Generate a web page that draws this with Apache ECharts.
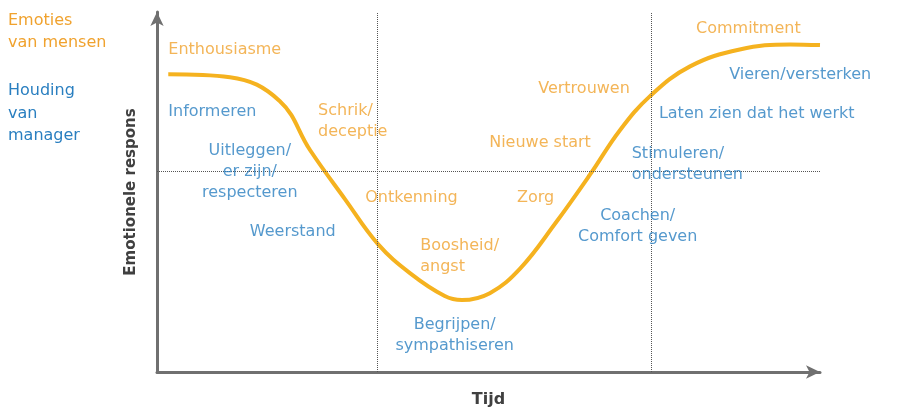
<!DOCTYPE html>
<html><head><meta charset="utf-8">
<script src="https://cdn.jsdelivr.net/npm/echarts@6/dist/echarts.min.js"></script>
<style>html,body{margin:0;padding:0;background:#fff}#c{width:900px;height:413px}</style>
</head><body><div id="c"></div>
<script>
const curveX = [1.7,11.0,18.5,23.1,28.4,33.3,38.2,43.4,46.0,50.2,54.8,60.0,65.3,69.8,74.4,80.4,87.9,95.5,100];
const curveY = [82.7,81.9,75.3,61.6,47.9,35.6,27.4,21.1,20.0,21.9,28.8,41.1,54.8,67.1,76.7,84.9,89.6,91.0,90.8];
const phaseLinesX = [33.2, 74.5];
const midLineY = 55.9;
// [text, x, y, align]
const emotionLabels = [
  ['Enthousiasme',1.7,89.6,'left'],
  ['Schrik/\ndeceptie',24.3,69.6,'left'],
  ['Ontkenning',31.4,48.5,'left'],
  ['Boosheid/\nangst',39.7,32.0,'left'],
  ['Zorg',54.3,48.5,'left'],
  ['Nieuwe start',50.1,63.6,'left'],
  ['Vertrouwen',57.5,78.6,'left'],
  ['Commitment',81.3,95.3,'left']
];
const managerLabels = [
  ['Informeren',1.7,72.3,'left'],
  ['Uitleggen/\ner zijn/\nrespecteren',14.0,55.6,'center'],
  ['Weerstand',14.0,38.9,'left'],
  ['Begrijpen/\nsympathiseren',44.9,10.1,'center'],
  ['Coachen/\nComfort geven',72.5,40.5,'center'],
  ['Stimuleren/\nondersteunen',71.6,57.8,'left'],
  ['Laten zien dat het werkt',75.7,71.8,'left'],
  ['Vieren/versterken',86.3,82.5,'left']
];
const ORANGE='#f0a22e', BLUE='#2a7fc0', FONT='DejaVu Sans';
function textSeries(arr,color){
  return {type:'scatter',symbolSize:0,silent:true,z:5,
    data:arr.map(d=>({value:[d[1],d[2]],label:{show:true,formatter:d[0],
      position:d[3]==='center'?'inside':'right',distance:0,align:d[3],verticalAlign:'middle',
      color:color,fontSize:16,fontFamily:FONT,lineHeight:21}}))};
}
const chart = echarts.init(document.getElementById('c'));
chart.setOption({
  animation:false,
  grid:{left:157,right:80,top:12,bottom:36},
  xAxis:{type:'value',min:0,max:100,axisLine:{lineStyle:{color:'#707070',width:3},symbol:['none','arrow'],symbolSize:[10,14]},
    axisTick:{show:false},axisLabel:{show:false},splitLine:{show:false},
    name:'Tijd',nameLocation:'middle',nameGap:20,nameTextStyle:{fontSize:16,fontWeight:'bold',color:'#404040',fontFamily:FONT}},
  yAxis:{type:'value',min:0,max:100,axisLine:{lineStyle:{color:'#707070',width:3},symbol:['none','arrow'],symbolSize:[10,14]},
    axisTick:{show:false},axisLabel:{show:false},splitLine:{show:false},
    name:'Emotionele respons',nameLocation:'middle',nameGap:18,nameRotate:90,nameTextStyle:{fontSize:15,fontWeight:'bold',color:'#404040',fontFamily:FONT}},
  graphic:[
    {type:'text',left:8,top:10,style:{text:'Emoties\nvan mensen',fill:ORANGE,fontSize:16,fontFamily:FONT,lineHeight:22}},
    {type:'text',left:8,top:80,style:{text:'Houding\nvan\nmanager',fill:BLUE,fontSize:16,fontFamily:FONT,lineHeight:22.5}}
  ],
  series:[
    {type:'line',smooth:0.4,symbol:'none',data:curveX.map((x,i)=>[x,curveY[i]]),
      lineStyle:{color:'#f5b21f',width:4},z:3,
      markLine:{silent:true,symbol:'none',label:{show:false},lineStyle:{color:'#555',type:'dotted',width:1},
        data:[...phaseLinesX.map(x=>({xAxis:x})),{yAxis:midLineY}]}},
    textSeries(emotionLabels,ORANGE),
    textSeries(managerLabels,BLUE)
  ]
});
</script></body></html>
